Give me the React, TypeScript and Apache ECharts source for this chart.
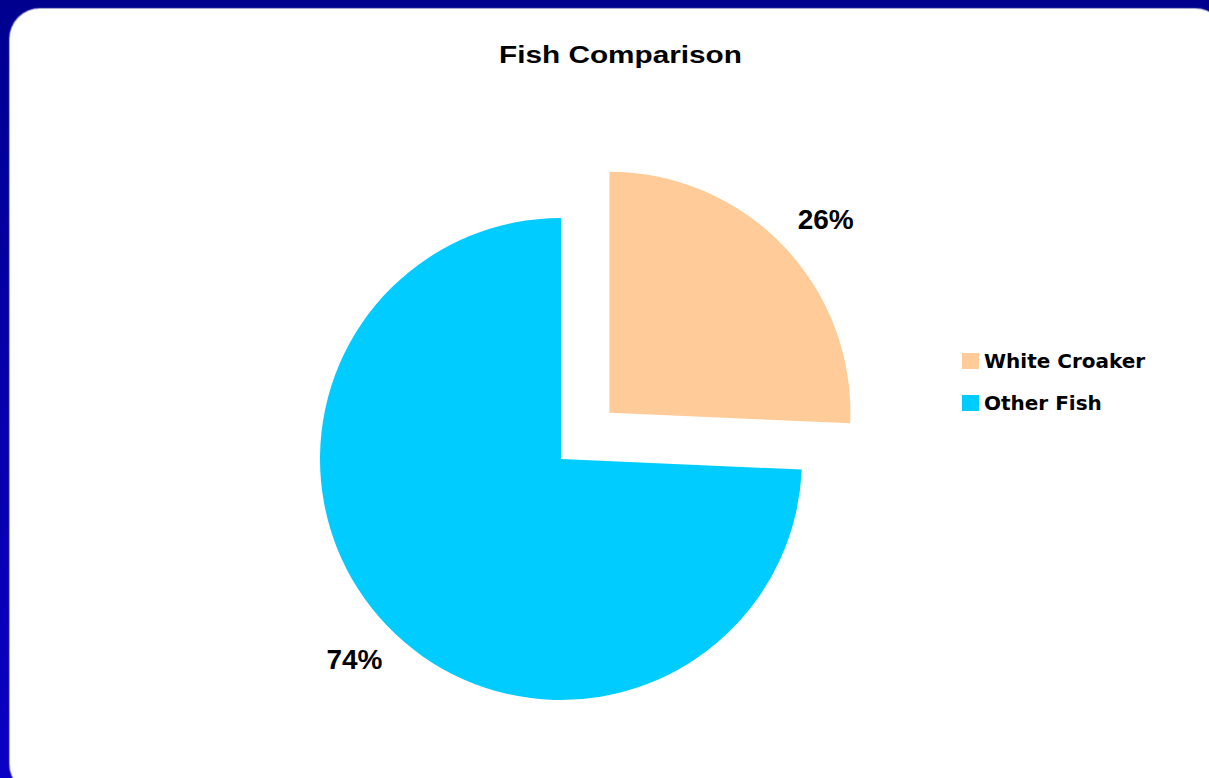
import React, { useEffect, useRef } from "react";
import * as echarts from "echarts";

const TITLE = "Fish Comparison";
const categories = ["White Croaker", "Other Fish"];
const values = [25.7, 74.3];
const colors = ["#FFCC99", "#00CCFF"];
// per-slice label placement (label line length / distance)
const labelLineLengths = [39, 49];
const labelDistances = [-14, -31];

export default function App() {
  const ref = useRef<HTMLDivElement>(null);

  useEffect(() => {
    if (!ref.current) return;
    const chart = echarts.init(ref.current, undefined, { renderer: "svg" });
    chart.setOption({
      animation: false,
      backgroundColor: "transparent",
      graphic: [
        {
          type: "text",
          x: 620.5,
          y: 55,
          scaleX: 1.24,
          style: {
            text: TITLE,
            font: 'bold 24px "Liberation Sans", Arial, sans-serif',
            fill: "#000",
            align: "center",
            verticalAlign: "middle",
            textAlign: "center",
            textVerticalAlign: "middle",
          },
        },
      ],
      legend: {
        orient: "vertical",
        left: 957,
        top: 346,
        itemWidth: 17,
        itemHeight: 16,
        itemGap: 22,
        icon: "rect",
        data: categories,
        textStyle: {
          fontFamily: '"DejaVu Sans", sans-serif',
          fontWeight: "bold",
          fontSize: 20,
          color: "#000",
        },
      },
      series: [
        {
          type: "pie",
          center: [561, 459],
          radius: 241,
          startAngle: 90,
          clockwise: true,
          avoidLabelOverlap: false,
          selectedMode: "single",
          selectedOffset: 67,
          emphasis: { disabled: true },
          label: {
            show: true,
            position: "outside",
            formatter: (p: any) => Math.round(p.percent) + "%",
            fontFamily: '"Liberation Sans", Arial, sans-serif',
            fontWeight: "bold",
            fontSize: 28,
            color: "#000",
          },
          labelLine: { show: false, length2: 0 },
          data: categories.map((name, i) => ({
            name,
            value: values[i],
            selected: i === 0,
            itemStyle: { color: colors[i] },
            label: { distanceToLabelLine: labelDistances[i] },
            labelLine: { show: false, length: labelLineLengths[i], length2: 0 },
          })),
        },
      ],
    });
    return () => chart.dispose();
  }, []);

  return (
    <div
      style={{
        position: "absolute",
        left: 0,
        top: 0,
        width: 1209,
        height: 778,
        overflow: "hidden",
        background: "linear-gradient(to bottom, #00008f, #0a00c4)",
      }}
    >
      <div
        style={{
          position: "absolute",
          left: 10,
          top: 9,
          width: 1215,
          height: 785,
          borderRadius: 30,
          background: "#fff",
          boxShadow: "0 0 1px 1px #b8b8d8",
        }}
      />
      <div
        ref={ref}
        style={{ position: "absolute", left: 0, top: 0, width: 1209, height: 778 }}
      />
    </div>
  );
}
